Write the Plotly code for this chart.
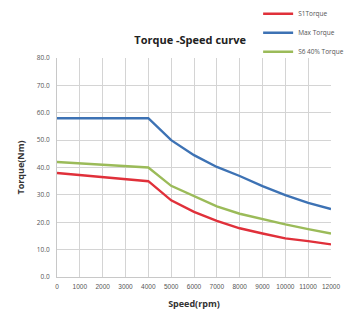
import plotly.graph_objects as go

speed = [0, 4000, 5000, 6000, 7000, 8000, 9000, 10000, 11000, 12000]
s1_torque = [38, 35, 28, 23.8, 20.5, 17.8, 15.9, 14.1, 13.1, 11.9]
max_torque = [58, 58, 50, 44.5, 40.2, 36.9, 33.2, 29.9, 27.1, 24.8]
s6_torque = [42, 40, 33.3, 29.5, 25.8, 23.1, 21.1, 19.2, 17.5, 15.9]

x_ticks = list(range(0, 12001, 1000))
y_ticks = list(range(0, 81, 10))

fig = go.Figure()
series = [
    ("S1Torque", s1_torque, "#e0303a"),
    ("Max Torque", max_torque, "#3d72b4"),
    ("S6 40% Torque", s6_torque, "#9bbb59"),
]
for name, vals, col in series:
    fig.add_trace(go.Scatter(x=speed, y=vals, name=name, mode="lines",
                             line=dict(color=col, width=2.4)))

fig.update_layout(
    width=345, height=307,
    margin=dict(l=49, r=22, t=50, b=38, autoexpand=False),
    paper_bgcolor="white", plot_bgcolor="white",
    font=dict(family="Open Sans, DejaVu Sans, sans-serif", color="#444"),
    title=dict(text="<b>Torque -Speed curve</b>", font=dict(size=11, color="#222"),
               x=0.528, xanchor="center", xref="container", y=0.896, yanchor="middle", yref="container"),
    legend=dict(x=0.725, y=1.268, xref="container", yref="paper", xanchor="left", yanchor="top",
                font=dict(size=6.5, color="#555"), bgcolor="rgba(0,0,0,0)",
                itemwidth=30, tracegroupgap=0),
    showlegend=True,
)
fig.update_xaxes(range=[0, 12000], tickvals=x_ticks, ticktext=[str(v) for v in x_ticks],
                 showgrid=True, gridcolor="#d4d4d4", gridwidth=1, tickangle=0,
                 showline=True, linecolor="#c8c8c8", linewidth=1, zeroline=False,
                 tickfont=dict(size=6.5, color="#555", family="Liberation Sans Narrow, Liberation Sans, sans-serif"),
                 ticks="", ticklabelstandoff=3,
                 title=dict(text="<b>Speed(rpm)</b>", font=dict(size=9, color="#333"), standoff=11))
fig.update_yaxes(range=[0, 80], tickvals=y_ticks, ticktext=[f"{v:.1f}" for v in y_ticks],
                 showgrid=True, gridcolor="#d4d4d4", gridwidth=1,
                 showline=True, linecolor="#c8c8c8", linewidth=1, zeroline=False,
                 tickfont=dict(size=6.5, color="#555"), ticks="", ticklabelstandoff=5,
                 title=dict(text="<b>Torque(Nm)</b>", font=dict(size=9, color="#333"), standoff=10))

fig.write_html("out.html")
